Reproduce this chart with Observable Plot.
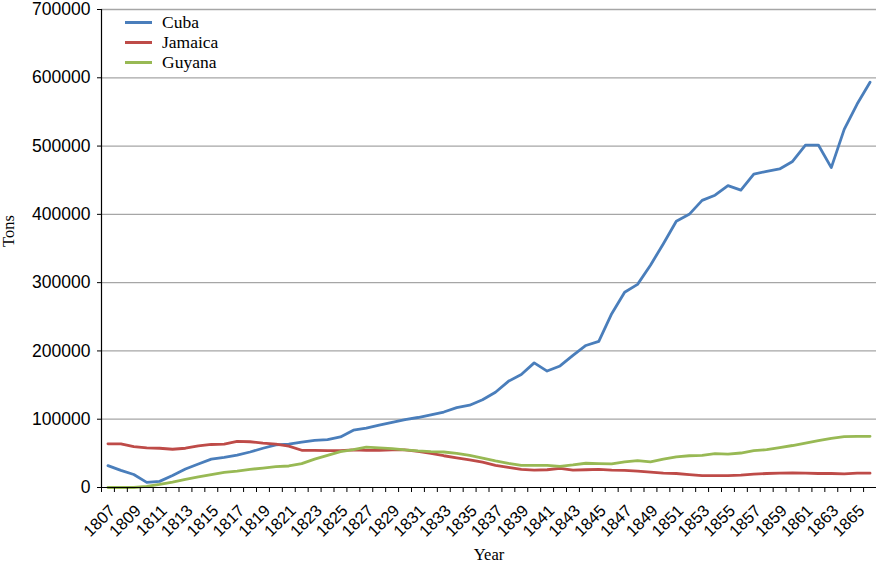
<!DOCTYPE html>
<html><head><meta charset="utf-8">
<script src="https://cdn.jsdelivr.net/npm/d3@7"></script>
<script src="https://cdn.jsdelivr.net/npm/@observablehq/plot@0.6"></script>
<style>
body{margin:0;background:#fff}
#wrap{position:relative;width:876px;height:566px}
#legend{position:absolute;left:125px;top:12px;font-family:"Liberation Serif";font-size:17.5px}
.item{display:flex;align-items:center;height:20px}
.sw{width:27px;height:3px;margin-right:10px}
</style></head><body><div id="wrap"><div id="legend"></div></div>
<script>
const years = d3.range(1807, 1867);
const labelYears = years.filter((y, i) => i % 2 === 0);
const yTicks = [0, 100000, 200000, 300000, 400000, 500000, 600000, 700000];
const names = ["Cuba", "Jamaica", "Guyana"];
const colors = ["#4a7ebb", "#be4b48", "#98b954"];
const cuba = [32000,25000,19000,7500,9000,17500,27000,34500,41500,44000,
  47500,52000,57500,62500,63500,66500,69000,70000,74000,84000,
  87000,91500,95500,99500,102500,106500,110500,117000,120500,128500,
  139500,155500,165500,182500,170500,178000,193500,208000,214000,254500,
  286000,297500,325500,357000,390000,400000,420500,428000,442000,435500,
  459000,463000,466500,477500,501500,501500,468500,524500,561500,593500];
const jamaica = [64000,64000,60000,58000,57500,56000,57500,61000,63000,63500,
  67500,67000,65000,63500,60500,54500,54500,54000,54000,55000,
  54500,54500,55000,55000,53000,50000,46500,43500,40500,37000,
  32500,29500,26500,25500,26000,28000,25500,26000,26500,25500,
  25000,24000,22500,21000,20500,19000,17500,17500,17500,18000,
  19500,20500,21000,21500,21000,20500,20500,20000,21000,21000];
const guyana = [0,0,0,1500,4500,8000,12000,15500,19000,22000,
  24000,26500,28500,30500,31500,35000,41500,47000,52500,55500,
  59000,58000,57000,55000,53500,52500,52000,50000,47000,43000,
  39000,35500,32500,32500,32500,31000,33000,35500,35000,34500,
  37500,39500,37500,41500,45000,46500,47000,49500,49000,50500,
  54000,55500,58500,61500,65000,68500,72000,74500,75000,75000];

const seriesValues = [cuba, jamaica, guyana];
const rows = names.flatMap((n, k) => years.map((yr, i) => ({year: yr, value: seriesValues[k][i], name: n})));
const boundaries = years.map(y => y - 0.5).concat([years[years.length - 1] + 0.5]);

const plot = Plot.plot({
  width: 876, height: 566,
  marginLeft: 101, marginRight: 0, marginTop: 9, marginBottom: 79,
  style: {fontFamily: "Liberation Sans", background: "white"},
  x: {domain: [boundaries[0], boundaries[boundaries.length - 1]]},
  y: {domain: [0, 700000]},
  color: {domain: names, range: colors},
  marks: [
    Plot.gridY(yTicks.filter(v => v > 0), {stroke: "#a6a6a6", strokeOpacity: 1, strokeWidth: 1.3}),
    Plot.line(rows, {x: "year", y: "value", z: "name", stroke: "name", strokeWidth: 2.8}),
    Plot.ruleY([0], {stroke: "black", strokeWidth: 1.2}),
    Plot.ruleX([boundaries[0]], {stroke: "black", strokeWidth: 1.2}),
    Plot.axisY({ticks: yTicks, tickSize: 4, tickPadding: 7, tickFormat: d => String(d), fontSize: 17.5, fill: "black", label: null}),
    Plot.axisX({ticks: boundaries, tickSize: 5, tickFormat: () => "", label: null}),
    Plot.text(labelYears, {x: d => d, text: d => String(d), frameAnchor: "bottom", rotate: -45, textAnchor: "end", lineAnchor: "top", dx: 0, dy: 16, fontSize: 16.5, fill: "black"}),
    Plot.text(["Tons"], {frameAnchor: "left", dx: -92.5, dy: -1.5, rotate: -90, fontFamily: "Liberation Serif", fontSize: 16.5, fill: "black"}),
    Plot.text(["Year"], {frameAnchor: "bottom", dy: 72, fontFamily: "Liberation Serif", fontSize: 16.5, fill: "black"})
  ]
});
document.getElementById("wrap").prepend(plot);
const legend = document.getElementById("legend");
names.forEach((n, k) => {
  const it = document.createElement("div");
  it.className = "item";
  it.innerHTML = `<span class="sw" style="background:${colors[k]}"></span><span>${n}</span>`;
  legend.appendChild(it);
});
</script></body></html>
